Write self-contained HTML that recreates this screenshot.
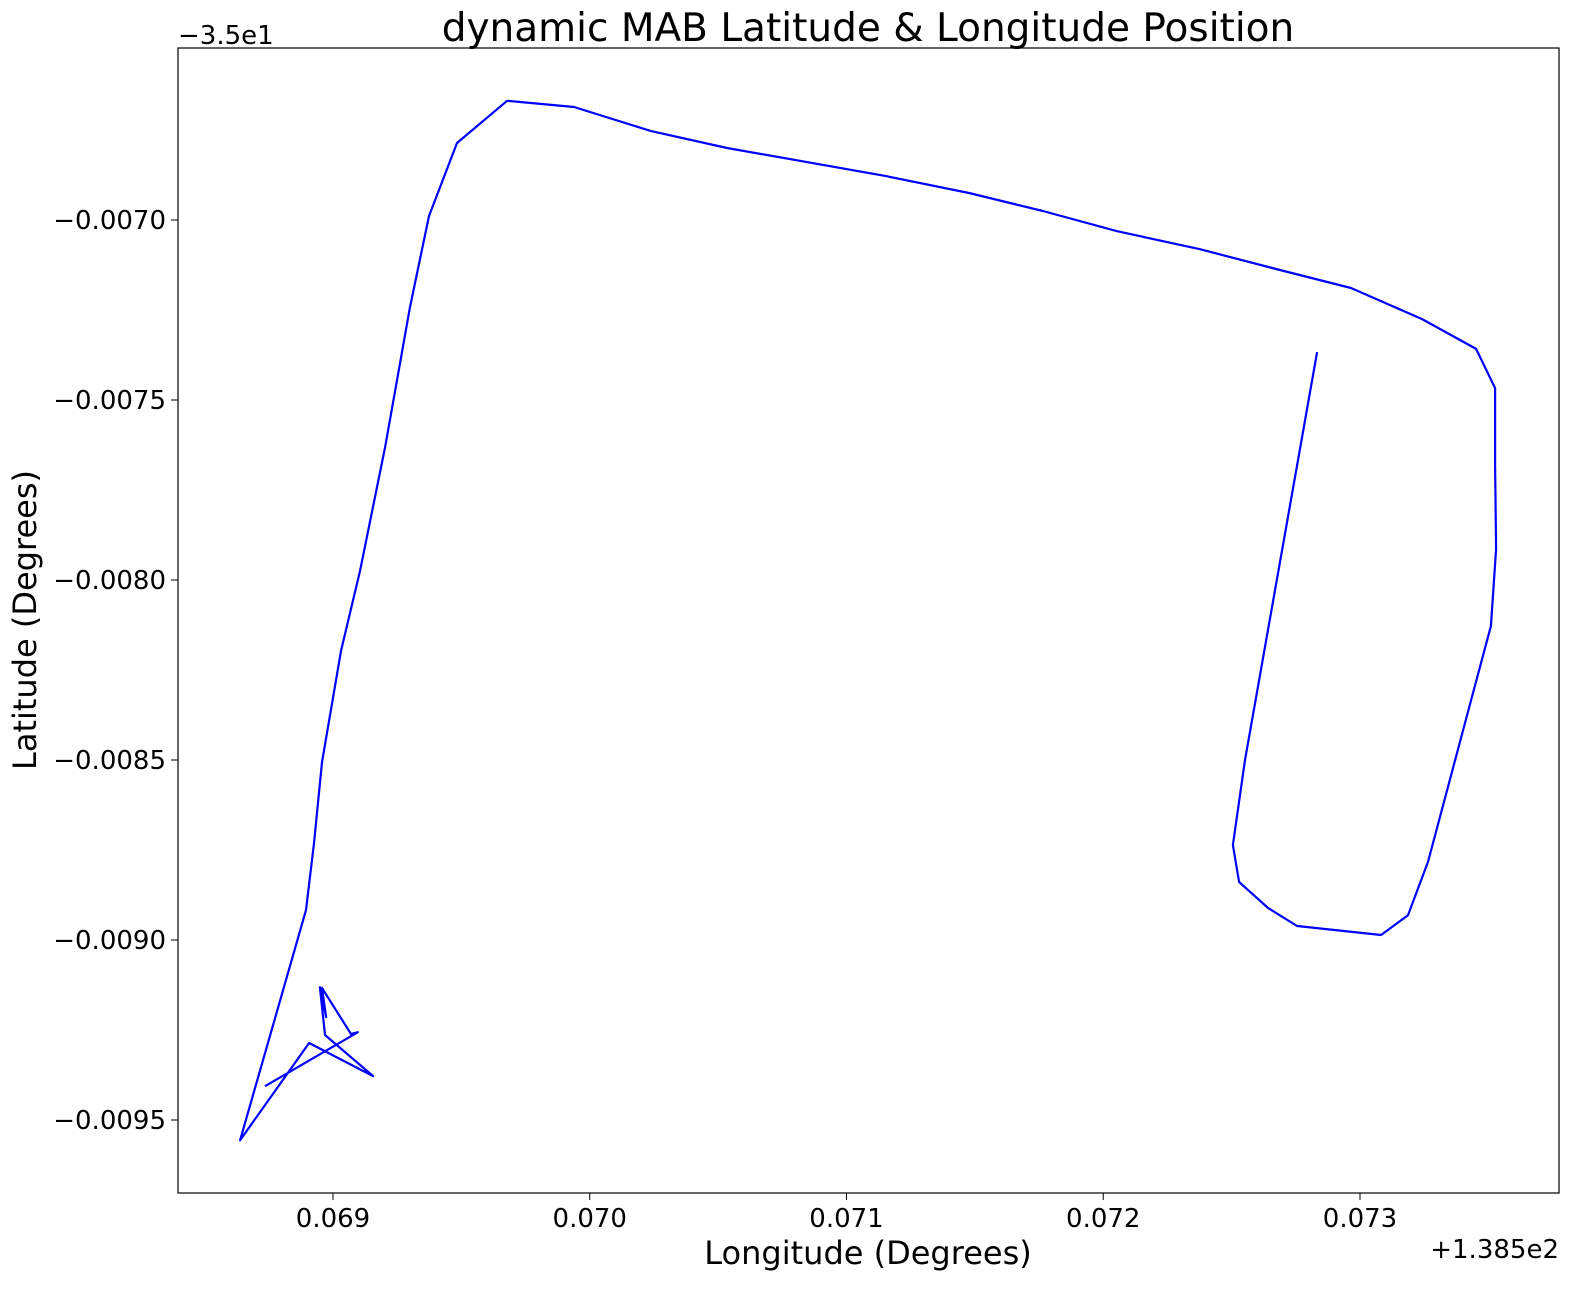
<!DOCTYPE html>
<html><head><meta charset="utf-8"><style>
body{margin:0;background:#fff}
svg text{font-family:"DejaVu Sans","Liberation Sans",sans-serif;fill:#000}
</style></head><body>
<svg id="chart" width="1583" height="1291" xmlns="http://www.w3.org/2000/svg">
<text x="868" y="41" font-size="39" text-anchor="middle">dynamic MAB Latitude &amp; Longitude Position</text>
<text x="178" y="44" font-size="26">−3.5e1</text>
<text x="1559" y="1258" font-size="26" text-anchor="end">+1.385e2</text>
<text x="868" y="1264" font-size="32" text-anchor="middle">Longitude (Degrees)</text>
<text x="0" y="0" font-size="32" text-anchor="middle" transform="translate(36,620) rotate(-90)">Latitude (Degrees)</text>
<g id="ticks"></g>
<g id="plot"></g>
<rect x="178" y="48" width="1381" height="1145" fill="none" stroke="#000" stroke-width="1.2"/>
</svg>
<script>
const lon = [0.068735,0.069097,0.069070,0.068957,0.068973,0.068949,0.068969,0.069156,0.068907,0.068638,0.068895,0.068926,0.068957,0.069031,0.069105,0.069203,0.069300,0.069374,0.069483,0.069678,0.069939,0.070239,0.070535,0.071154,0.071477,0.071765,0.072054,0.072377,0.072673,0.072965,0.073241,0.073452,0.073526,0.073526,0.073530,0.073510,0.073440,0.073265,0.073187,0.073082,0.072755,0.072642,0.072529,0.072505,0.072552,0.072833];
const lat = [-0.009406,-0.009256,-0.009261,-0.009133,-0.009214,-0.009131,-0.009264,-0.009378,-0.009286,-0.009556,-0.008917,-0.008731,-0.008506,-0.008197,-0.007975,-0.007631,-0.007242,-0.006989,-0.006786,-0.006669,-0.006686,-0.006753,-0.006800,-0.006878,-0.006925,-0.006975,-0.007031,-0.007081,-0.007136,-0.007189,-0.007275,-0.007358,-0.007467,-0.007681,-0.007914,-0.008128,-0.008314,-0.008783,-0.008931,-0.008986,-0.008961,-0.008911,-0.008839,-0.008736,-0.008500,-0.007367];
const xTicks = [0.069,0.070,0.071,0.072,0.073];
const xTickLabels = ["0.069","0.070","0.071","0.072","0.073"];
const yTicks = [-0.0070,-0.0075,-0.0080,-0.0085,-0.0090,-0.0095];
const yTickLabels = ["−0.0070","−0.0075","−0.0080","−0.0085","−0.0090","−0.0095"];

function xs(v){return 333+(v-0.069)*256750;}
function ys(v){return 220-(v+0.007)*360000;}
const NS="http://www.w3.org/2000/svg";
const tg=document.getElementById('ticks');
xTicks.forEach((t,i)=>{
  const l=document.createElementNS(NS,'line');
  l.setAttribute('x1',xs(t));l.setAttribute('x2',xs(t));l.setAttribute('y1',1193);l.setAttribute('y2',1200);
  l.setAttribute('stroke','#000');
  
  
  tg.appendChild(l);
  const tx=document.createElementNS(NS,'text');
  tx.setAttribute('x',xs(t));tx.setAttribute('y',1227);tx.setAttribute('font-size','26');tx.setAttribute('text-anchor','middle');
  tx.textContent=xTickLabels[i];
  
  
  tg.appendChild(tx);
});
yTicks.forEach((t,i)=>{
  const l=document.createElementNS(NS,'line');
  l.setAttribute('x1',171);l.setAttribute('x2',178);l.setAttribute('y1',ys(t));l.setAttribute('y2',ys(t));
  l.setAttribute('stroke','#000');
  
  
  tg.appendChild(l);
  const tx=document.createElementNS(NS,'text');
  tx.setAttribute('x',166);tx.setAttribute('y',ys(t)+9);tx.setAttribute('font-size','26');tx.setAttribute('text-anchor','end');
  tx.textContent=yTickLabels[i];
  
  
  tg.appendChild(tx);
});
const p=document.createElementNS(NS,'polyline');
p.setAttribute('points',lon.map((v,i)=>xs(v).toFixed(1)+','+ys(lat[i]).toFixed(1)).join(' '));
p.setAttribute('fill','none');p.setAttribute('stroke','#0000ff');p.setAttribute('stroke-width','2.2');p.setAttribute('stroke-linejoin','round');


document.getElementById('plot').appendChild(p);
</script>
</body></html>
